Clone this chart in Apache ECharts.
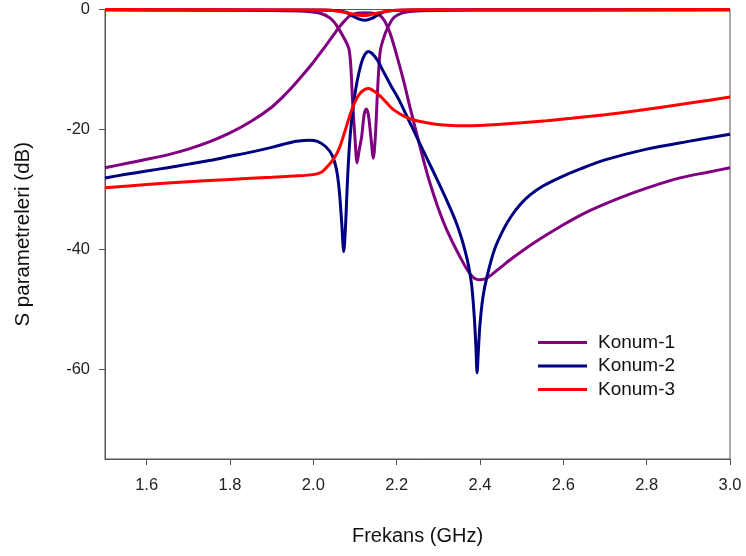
<!DOCTYPE html>
<html>
<head>
<meta charset="utf-8">
<script src="https://cdn.jsdelivr.net/npm/echarts@6/dist/echarts.min.js"></script>
<style>
  html, body { margin: 0; padding: 0; background: #fff; }
  #chart { width: 746px; height: 556px; }
</style>
</head>
<body>
<div id="chart"></div>
<script>
// Frequency sweep (GHz) and S-parameter levels (dB) for each switch state.

// Konum-1: transmission curve
const k1TransFreq = [1.50, 1.55, 1.60, 1.65, 1.70, 1.75, 1.80, 1.85, 1.90, 1.925, 1.95, 1.975, 2.00, 2.025, 2.05, 2.065, 2.075, 2.085, 2.095, 2.11, 2.125, 2.14, 2.16, 2.17, 2.178, 2.185, 2.20, 2.217, 2.233, 2.249, 2.265, 2.28, 2.30, 2.321, 2.35, 2.377, 2.397, 2.417, 2.45, 2.481, 2.53, 2.593, 2.65, 2.737, 2.80, 2.88, 2.95, 3.00];
const k1TransDb   = [-26.4, -25.7, -25.0, -24.25, -23.3, -22.1, -20.6, -18.7, -16.3, -14.7, -12.9, -10.9, -8.8, -6.5, -4.1, -2.7, -1.9, -1.2, -0.8, -0.6, -0.55, -0.6, -1.0, -1.8, -2.9, -4.1, -7.6, -12.0, -16.6, -21.0, -25.3, -29.0, -33.2, -36.9, -41.0, -44.2, -45.1, -44.8, -43.0, -41.3, -38.9, -36.2, -34.0, -31.4, -29.8, -28.1, -27.1, -26.4];

// Konum-1: reflection curve
const k1ReflFreq = [1.50, 1.70, 1.90, 1.98, 2.02, 2.04, 2.05, 2.06, 2.07, 2.08, 2.086, 2.09, 2.094, 2.10, 2.105, 2.110, 2.116, 2.122, 2.127, 2.132, 2.138, 2.144, 2.149, 2.153, 2.157, 2.161, 2.17, 2.178, 2.19, 2.20, 2.22, 2.26, 2.40, 3.00];
const k1ReflDb   = [-0.05, -0.08, -0.15, -0.3, -0.7, -1.4, -2.1, -3.1, -4.3, -5.6, -6.75, -9.5, -15.1, -21.5, -25.6, -23.5, -21.2, -17.5, -16.6, -17.5, -21.2, -24.8, -21.0, -15.1, -10.0, -6.75, -4.5, -3.1, -1.6, -1.0, -0.45, -0.2, -0.1, -0.05];

// Konum-2: transmission curve
const k2TransFreq = [1.50, 1.55, 1.60, 1.65, 1.70, 1.75, 1.80, 1.85, 1.90, 1.93, 1.96, 1.99, 2.01, 2.03, 2.045, 2.055, 2.062, 2.068, 2.073, 2.077, 2.081, 2.085, 2.09, 2.097, 2.105, 2.115, 2.123, 2.132, 2.142, 2.155, 2.17, 2.187, 2.205, 2.223, 2.245, 2.264, 2.28, 2.298, 2.32, 2.341, 2.355, 2.365, 2.372, 2.38, 2.386, 2.390, 2.393, 2.396, 2.40, 2.407, 2.417, 2.435, 2.457, 2.475, 2.497, 2.521, 2.55, 2.593, 2.641, 2.70, 2.80, 2.90, 3.00];
const k2TransDb   = [-28.1, -27.5, -26.95, -26.4, -25.8, -25.2, -24.5, -23.8, -23.0, -22.45, -22.0, -21.8, -22.0, -22.9, -24.3, -26.5, -30.0, -35.5, -40.4, -36.5, -30.0, -24.5, -19.8, -15.5, -12.0, -9.0, -7.6, -7.0, -7.4, -8.6, -10.6, -12.8, -15.0, -17.6, -20.8, -23.6, -25.9, -28.5, -31.8, -35.2, -38.0, -40.5, -42.6, -46.0, -51.0, -56.0, -60.6, -57.0, -52.5, -48.0, -44.5, -40.0, -36.6, -34.5, -32.5, -30.9, -29.5, -28.0, -26.6, -25.1, -23.3, -22.0, -20.8];

// Konum-2: reflection curve
const k2ReflFreq = [1.50, 2.00, 2.06, 2.08, 2.095, 2.11, 2.125, 2.14, 2.155, 2.17, 2.19, 2.30, 3.00];
const k2ReflDb   = [-0.05, -0.1, -0.2, -0.5, -1.1, -1.6, -1.8, -1.5, -0.9, -0.4, -0.15, -0.05, -0.05];

// Konum-3: transmission curve
const k3TransFreq = [1.50, 1.60, 1.70, 1.80, 1.90, 1.95, 2.00, 2.02, 2.035, 2.05, 2.062, 2.075, 2.088, 2.10, 2.112, 2.122, 2.133, 2.145, 2.16, 2.175, 2.19, 2.205, 2.221, 2.24, 2.257, 2.29, 2.322, 2.36, 2.40, 2.45, 2.50, 2.56, 2.62, 2.70, 2.78, 2.84, 2.92, 3.00];
const k3TransDb   = [-29.75, -29.2, -28.75, -28.35, -28.0, -27.8, -27.55, -27.1, -26.1, -24.8, -23.2, -20.5, -17.6, -15.4, -14.0, -13.4, -13.2, -13.6, -14.4, -15.5, -16.6, -17.3, -17.9, -18.4, -18.7, -19.1, -19.3, -19.4, -19.35, -19.15, -18.9, -18.55, -18.15, -17.55, -16.85, -16.25, -15.45, -14.6];

// Konum-3: reflection curve
const k3ReflFreq = [1.50, 2.03, 2.06, 2.09, 2.115, 2.135, 2.16, 2.19, 2.25, 3.00];
const k3ReflDb   = [-0.02, -0.1, -0.3, -0.7, -1.0, -0.9, -0.5, -0.15, -0.05, -0.02];

// Axis ticks
const xTicks = [1.6, 1.8, 2.0, 2.2, 2.4, 2.6, 2.8, 3.0];
const yTicks = [0, -20, -40, -60];

const seriesNames = ['Konum-1', 'Konum-2', 'Konum-3'];
const seriesColors = ['#800080', '#000080', '#ff0000'];

const FONT = "'Liberation Sans', Arial, sans-serif";

function pairs(xs, ys) {
  return xs.map((x, i) => [x, ys[i]]);
}

function curve(name, color, xs, ys) {
  return {
    name: name,
    type: 'line',
    data: pairs(xs, ys),
    showSymbol: false,
    smooth: 0.3,
    lineStyle: { color: color, width: 3 },
    itemStyle: { color: color },
    emphasis: { disabled: true },
    animation: false,
    clip: true
  };
}

const chart = echarts.init(document.getElementById('chart'), null, { renderer: 'canvas' });

chart.setOption({
  backgroundColor: '#ffffff',
  animation: false,
  grid: { left: 105, right: 16, top: 9.5, bottom: 97, show: true, borderColor: '#555', borderWidth: 1, containLabel: false },
  legend: {
    orient: 'vertical',
    left: 533,
    top: 328,
    itemWidth: 49,
    itemHeight: 3,
    itemGap: 4.5,
    icon: 'rect',
    data: seriesNames,
    textStyle: { fontFamily: FONT, fontSize: 19, lineHeight: 19, color: '#111', padding: [0, 0, 0, 6] }
  },
  xAxis: {
    type: 'value',
    min: 1.5,
    max: 3.0,
    name: 'Frekans (GHz)',
    nameLocation: 'middle',
    nameGap: 67,
    nameTextStyle: { fontFamily: FONT, fontSize: 20, color: '#111' },
    axisLine: { show: true, onZero: false, lineStyle: { color: '#555', width: 1 } },
    axisTick: { show: true, inside: false, length: 6, customValues: xTicks, lineStyle: { color: '#555' } },
    axisLabel: {
      customValues: xTicks,
      margin: 18,
      fontFamily: FONT, fontSize: 16.5, color: '#222',
      formatter: v => v.toFixed(1)
    },
    splitLine: { show: false }
  },
  yAxis: {
    type: 'value',
    min: -75,
    max: 0,
    name: 'S parametreleri (dB)',
    nameLocation: 'middle',
    nameRotate: 90,
    nameGap: 71,
    nameTextStyle: { fontFamily: FONT, fontSize: 20.5, color: '#111' },
    axisLine: { show: true, onZero: false, lineStyle: { color: '#555', width: 1 } },
    axisTick: { show: true, inside: false, length: 6, customValues: yTicks, lineStyle: { color: '#555' } },
    axisLabel: {
      customValues: yTicks,
      margin: 15,
      fontFamily: FONT, fontSize: 16.5, color: '#222',
      formatter: v => String(v)
    },
    splitLine: { show: false }
  },
  series: [
    curve(seriesNames[0], seriesColors[0], k1TransFreq, k1TransDb),
    curve(seriesNames[0], seriesColors[0], k1ReflFreq, k1ReflDb),
    curve(seriesNames[1], seriesColors[1], k2TransFreq, k2TransDb),
    curve(seriesNames[1], seriesColors[1], k2ReflFreq, k2ReflDb),
    curve(seriesNames[2], seriesColors[2], k3TransFreq, k3TransDb),
    curve(seriesNames[2], seriesColors[2], k3ReflFreq, k3ReflDb)
  ]
});
</script>
</body>
</html>
